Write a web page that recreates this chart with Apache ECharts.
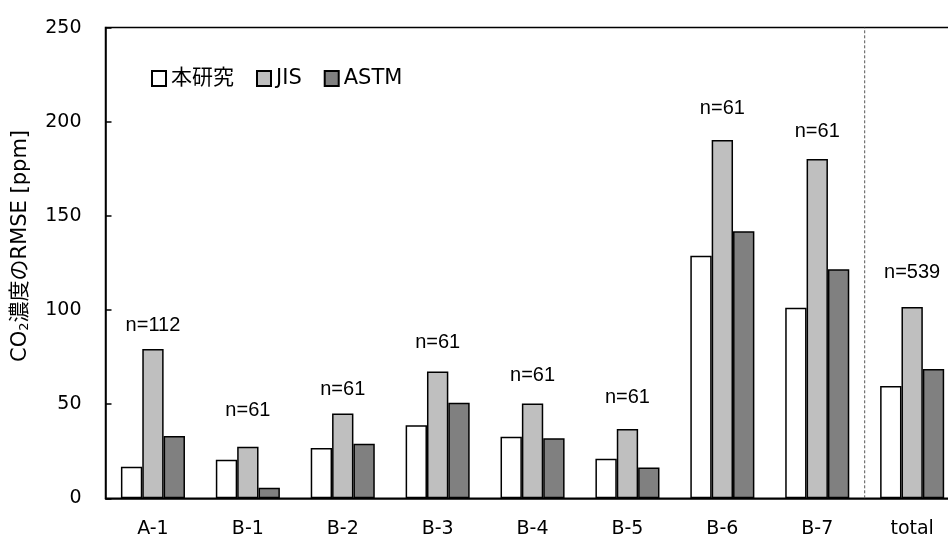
<!DOCTYPE html>
<html><head><meta charset="utf-8">
<script src="https://cdn.jsdelivr.net/npm/echarts@6/dist/echarts.min.js"></script>
<style>html,body{margin:0;padding:0;background:#fff}#c{width:948px;height:539px}</style>
</head><body><div id="c"></div>
<script>
const categories = ['A-1','B-1','B-2','B-3','B-4','B-5','B-6','B-7','total'];
const seriesNames = ['本研究','JIS','ASTM'];
const honkenkyu = [16.8, 20.5, 26.7, 38.8, 32.7, 21.0, 128.8, 101.2, 59.6];
const jis = [79.3, 27.4, 45.1, 67.4, 50.4, 36.8, 190.3, 180.2, 101.6];
const astm = [33.1, 5.6, 29.0, 50.8, 31.9, 16.3, 141.9, 121.6, 68.7];
const nLabels = ['n=112','n=61','n=61','n=61','n=61','n=61','n=61','n=61','n=539'];
const nLabelY = [92.0, 46.9, 58.0, 82.6, 65.0, 53.4, 207.3, 194.7, 119.8];
const yTicks = [0, 50, 100, 150, 200, 250];
const dividerAt = 8;

const FONT = '"DejaVu Sans", "Noto Sans CJK JP", sans-serif';
const NFONT = '"Liberation Sans", Arial, sans-serif';
const chart = echarts.init(document.getElementById('c'), null, {renderer:'canvas'});
const barStyle = (c) => ({color: c, borderColor: '#000', borderWidth: 1.5});
chart.setOption({
  animation: false,
  backgroundColor: '#fff',
  textStyle: {fontFamily: FONT, color: '#000'},
  grid: {left: 105.5, top: 27.6, height: 470.7, width: 854.1, outerBoundsMode: 'none', containLabel: false,
         show: true, borderColor: '#000', borderWidth: 1.5, backgroundColor: 'transparent'},
  legend: {
    data: seriesNames, left: 146, top: 63, icon: 'rect', itemWidth: 14, itemHeight: 15,
    itemGap: 22, textStyle: {fontSize: 21, color: '#000', fontFamily: FONT}
  },
  xAxis: [{
    type: 'category', data: categories,
    axisLine: {lineStyle: {color: '#000', width: 1.5}},
    axisTick: {show: false},
    axisLabel: {fontSize: 19, color: '#000', margin: 21, fontFamily: FONT}
  }, {
    type: 'value', min: 0, max: categories.length, show: false
  }],
  yAxis: {
    type: 'value', min: yTicks[0], max: yTicks[yTicks.length-1], interval: 50,
    axisLine: {show: true, lineStyle: {color: '#000', width: 1.5}},
    axisTick: {show: true, inside: true, length: 6, lineStyle: {color: '#000', width: 1.5}},
    splitLine: {show: false},
    axisLabel: {fontSize: 19, color: '#000', margin: 24, fontFamily: FONT},
    name: '{a|CO}{s|2}{a|濃度のRMSE [ppm]}',
    nameLocation: 'middle', nameGap: 74, nameRotate: 90,
    nameTextStyle: {
      padding: [0, 0, 0, 34],
      rich: {
        a: {fontSize: 21, color: '#000', fontFamily: FONT, lineHeight: 26, verticalAlign: 'bottom'},
        s: {fontSize: 13, color: '#000', fontFamily: FONT, lineHeight: 19, verticalAlign: 'bottom'}
      }
    }
  },
  series: [
    {name: seriesNames[0], type: 'bar', data: honkenkyu, barGap: '0%', barCategoryGap: '32.5%', itemStyle: barStyle('#ffffff')},
    {name: seriesNames[1], type: 'bar', data: jis, itemStyle: barStyle('#bfbfbf')},
    {name: seriesNames[2], type: 'bar', data: astm, itemStyle: barStyle('#808080')},
    {type: 'scatter', xAxisIndex: 0, data: nLabelY.map((v,i)=>[i, v]), symbolSize: 0,
     itemStyle: {color: '#000', opacity: 1}, silent: true,
     label: {show: true, position: 'inside', formatter: (p)=>nLabels[p.dataIndex], fontSize: 20, color: '#000',
             opacity: 1, fontFamily: NFONT}},
    {type: 'line', xAxisIndex: 1, data: [[dividerAt, yTicks[0]], [dividerAt, yTicks[yTicks.length-1]]],
     symbol: 'none', silent: true, lineStyle: {type: [3,2], color: '#555', width: 1}}
  ]
});
</script></body></html>
